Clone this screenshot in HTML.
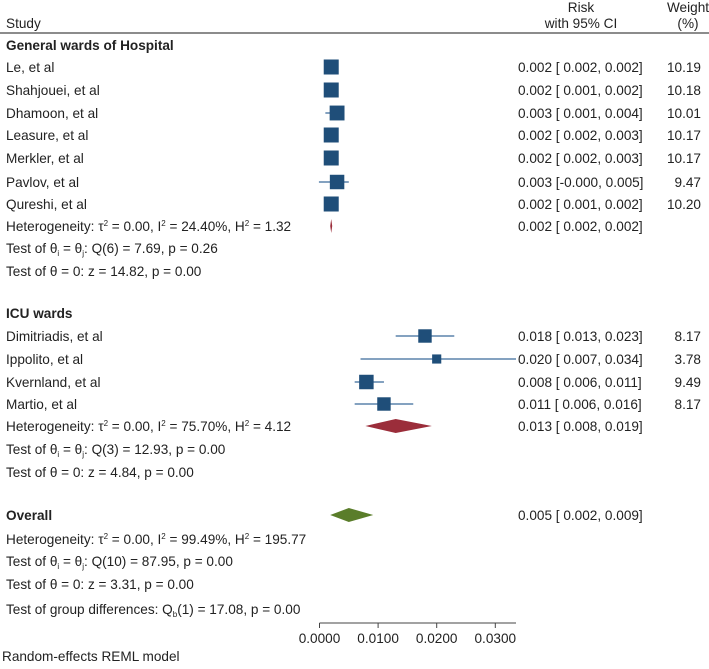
<!DOCTYPE html>
<html><head><meta charset="utf-8"><style>
body{margin:0;background:#fff}
svg text{font-family:"Liberation Sans",Arial,sans-serif;font-size:13.6px;fill:#222}
</style></head><body>
<svg id="chart" width="709" height="664" xmlns="http://www.w3.org/2000/svg">
<defs><clipPath id="plotclip"><rect x="300" y="34" width="216" height="600"/></clipPath></defs>
<text x="6" y="28">Study</text>
<text x="581" y="12" text-anchor="middle">Risk</text>
<text x="581" y="28" text-anchor="middle">with 95% CI</text>
<text x="688" y="12" text-anchor="middle">Weight</text>
<text x="688" y="28" text-anchor="middle">(%)</text>
<line x1="0" y1="33" x2="709" y2="33" stroke="#666" stroke-width="1.5"/>
<g id="marks" clip-path="url(#plotclip)"></g>
<g id="labels"></g>
<line x1="319.5" y1="623" x2="516" y2="623" stroke="#444"/>
<g id="axis"></g>
<text x="2" y="661">Random-effects REML model</text>
</svg>
<script>
const studies = ["Le, et al","Shahjouei, et al","Dhamoon, et al","Leasure, et al","Merkler, et al","Pavlov, et al","Qureshi, et al","Dimitriadis, et al","Ippolito, et al","Kvernland, et al","Martio, et al"];
const est = [0.002,0.002,0.003,0.002,0.002,0.003,0.002,0.018,0.020,0.008,0.011];
const lo = [0.002,0.001,0.001,0.002,0.002,-0.0001,0.001,0.013,0.007,0.006,0.006];
const hi = [0.002,0.002,0.004,0.003,0.003,0.005,0.002,0.023,0.034,0.011,0.016];
const weights = ["10.19","10.18","10.01","10.17","10.17","9.47","10.20","8.17","3.78","9.49","8.17"];
const studyRows = [67,90,113,135,158,182,204,336,359,382,404];
const pooledNames = ["General wards pooled","ICU pooled","Overall pooled"];
const pooledEst = [0.002,0.013,0.005];
const pooledLo = [0.002,0.008,0.002];
const pooledHi = [0.002,0.019,0.009];
const pooledRows = [226,426,515];
const pooledColors = ["#9b2d3a","#9b2d3a","#5a7d2a"];
const ticks = [0,0.01,0.02,0.03];
const tickLabels = ["0.0000","0.0100","0.0200","0.0300"];

const NS="http://www.w3.org/2000/svg";
const X = v => 319.5 + v*5860;
const marks=document.getElementById('marks'), labels=document.getElementById('labels'), axis=document.getElementById('axis');
function mk(tag, attrs, parent){const e=document.createElementNS(NS,tag);for(const k in attrs)e.setAttribute(k,attrs[k]);parent.appendChild(e);return e;}
function txt(x,y,s,parent,anchor,bold){const t=mk('text',{x:x,y:y},parent);if(anchor)t.setAttribute('text-anchor',anchor);if(bold)t.setAttribute('font-weight','bold');t.textContent=s;return t;}
function fmt(v){return v<0 ? '-'+Math.abs(v).toFixed(3) : ' '+v.toFixed(3);}
function ciText(e,l,h){return e.toFixed(3)+' ['+fmt(l)+', '+h.toFixed(3)+']';}

studies.forEach((s,i)=>{
  const y=studyRows[i];
  const n=txt(6,y+5,s,labels);
  
  
  const l=mk('line',{x1:X(lo[i]),x2:X(hi[i]),y1:y,y2:y,stroke:'#3b6a9a','stroke-width':1.2},marks);
  
  
  const side=4.7*Math.sqrt(parseFloat(weights[i]));
  const r=mk('rect',{x:X(est[i])-side/2,y:y-side/2,width:side,height:side,fill:'#1f4e79'},marks);
  
  
  const c=txt(518,y+5,ciText(est[i],lo[i],hi[i]),labels);
  
  
  const w=txt(701,y+5,weights[i],labels,'end');
  
  
});
pooledEst.forEach((e,i)=>{
  const y=pooledRows[i], h=7;
  const p=mk('polygon',{points:`${X(pooledLo[i])-1},${y} ${X(e)},${y-h} ${X(pooledHi[i])+1},${y} ${X(e)},${y+h}`,fill:pooledColors[i]},marks);
  
  
  const c=txt(518,y+5,ciText(e,pooledLo[i],pooledHi[i]),labels);
  
  
});
ticks.forEach((t,i)=>{
  const tk=mk('line',{x1:X(t),x2:X(t),y1:623,y2:628,stroke:'#444'},axis);
  
  
  const tl=txt(X(t),643,tickLabels[i],axis,'middle');
  
  
});
function rich(y,html,name,bold){const t=mk('text',{x:6,y:y+5},labels);if(bold)t.setAttribute('font-weight','bold');t.innerHTML=html;}
const sub = s => `<tspan baseline-shift="-3" font-size="8">${s}</tspan>`;
const sup = s => `<tspan baseline-shift="5" font-size="8">${s}</tspan>`;
rich(45,'General wards of Hospital','group-general-header',true);
rich(226,`Heterogeneity: τ${sup('2')} = 0.00, I${sup('2')} = 24.40%, H${sup('2')} = 1.32`,'heterogeneity-general');
rich(248,`Test of θ${sub('i')} = θ${sub('j')}: Q(6) = 7.69, p = 0.26`,'q-test-general');
rich(271,'Test of θ = 0: z = 14.82, p = 0.00','z-test-general');
rich(313,'ICU wards','group-icu-header',true);
rich(426,`Heterogeneity: τ${sup('2')} = 0.00, I${sup('2')} = 75.70%, H${sup('2')} = 4.12`,'heterogeneity-icu');
rich(449,`Test of θ${sub('i')} = θ${sub('j')}: Q(3) = 12.93, p = 0.00`,'q-test-icu');
rich(472,'Test of θ = 0: z = 4.84, p = 0.00','z-test-icu');
rich(515,'Overall','overall-header',true);
rich(539,`Heterogeneity: τ${sup('2')} = 0.00, I${sup('2')} = 99.49%, H${sup('2')} = 195.77`,'heterogeneity-overall');
rich(561,`Test of θ${sub('i')} = θ${sub('j')}: Q(10) = 87.95, p = 0.00`,'q-test-overall');
rich(584,'Test of θ = 0: z = 3.31, p = 0.00','z-test-overall');
rich(609,`Test of group differences: Q${sub('b')}(1) = 17.08, p = 0.00`,'group-difference-test');
</script>
</body></html>
